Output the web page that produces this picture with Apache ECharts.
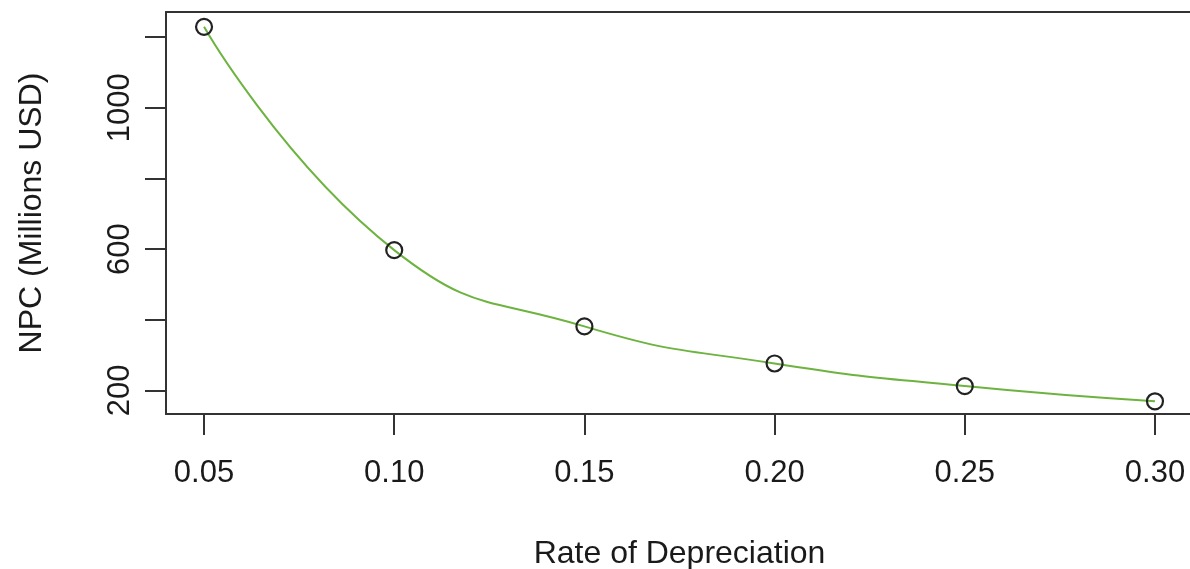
<!DOCTYPE html>
<html>
<head>
<meta charset="utf-8">
<title>NPC vs Rate of Depreciation</title>
<script src="https://cdn.jsdelivr.net/npm/echarts@6/dist/echarts.min.js"></script>
<style>
  html, body { margin: 0; padding: 0; background: #fff; }
  #lineChart { width: 1190px; height: 569px; }
</style>
</head>
<body>
<div id="lineChart"></div>
<script>
// data
var rates = [0.05, 0.10, 0.15, 0.20, 0.25, 0.30];
var npc = [1229, 597, 381, 276, 212, 169];
var yTicks = [200, 400, 600, 800, 1000, 1200];
var yLabels = [200, 600, 1000];
var xTicks = [0.05, 0.10, 0.15, 0.20, 0.25, 0.30];

var points = rates.map(function (r, i) { return [r, npc[i]]; });

var axisColor = '#333';
var textColor = '#1a1a1a';
var font = 'Liberation Sans, Arial, sans-serif';

var myChart = echarts.init(document.getElementById('lineChart'));

var option = {
	backgroundColor: '#fff',
	animation: false,
	grid: {
		left: 166,
		right: -3,
		top: 12,
		bottom: 155,
		containLabel: false,
		outerBoundsMode: 'none',
	},
	xAxis: [{
		type: 'value',
		min: 0.04,
		max: 0.31,
		name: 'Rate of Depreciation',
		nameLocation: 'middle',
		nameGap: 124,
		nameTextStyle: { fontFamily: font, fontSize: 32, color: textColor },
		axisLine: { show: true, onZero: false, lineStyle: { color: axisColor, width: 2 } },
		axisTick: { show: true, length: 21, customValues: xTicks, lineStyle: { color: axisColor, width: 2 } },
		axisLabel: {
			customValues: xTicks,
			margin: 44,
			fontFamily: font,
			fontSize: 31,
			color: textColor,
			formatter: function (v) { return v.toFixed(2); },
		},
		splitLine: { show: false },
	}, {
		// top edge of the box
		type: 'value',
		position: 'top',
		min: 0.04,
		max: 0.31,
		axisLine: { show: true, onZero: false, lineStyle: { color: axisColor, width: 2 } },
		axisTick: { show: false },
		axisLabel: { show: false },
		splitLine: { show: false },
	}],
	yAxis: {
		type: 'value',
		min: 133,
		max: 1271,
		name: 'NPC (Millions USD)',
		nameLocation: 'middle',
		nameGap: 118,
		nameRotate: 90,
		nameTextStyle: { fontFamily: font, fontSize: 32, color: textColor },
		axisLine: { show: true, onZero: false, lineStyle: { color: axisColor, width: 2 } },
		axisTick: { show: true, length: 21, customValues: yTicks, lineStyle: { color: axisColor, width: 2 } },
		axisLabel: {
			customValues: yLabels,
			rotate: 90,
			margin: 30,
			fontFamily: font,
			fontSize: 31,
			color: textColor,
			formatter: function (v) { return String(v); },
		},
		splitLine: { show: false },
	},
	series: [{
		type: 'line',
		data: points,
		smooth: 0.5,
		symbol: 'circle',
		symbolSize: 16,
		lineStyle: { color: '#6db33f', width: 2 },
		itemStyle: { color: 'rgba(0,0,0,0)', borderColor: '#222', borderWidth: 2.2 },
		z: 3,
	}],
};

myChart.setOption(option);
</script>
</body>
</html>
